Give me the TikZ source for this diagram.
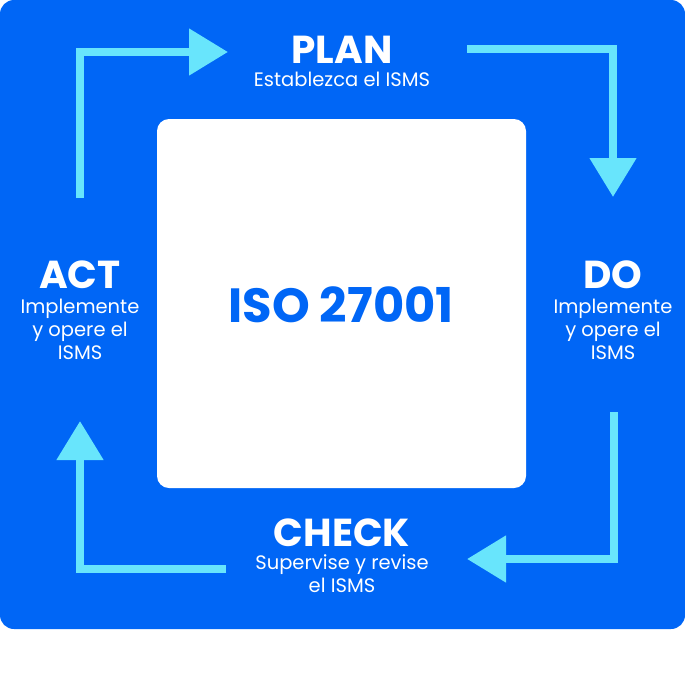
\documentclass[tikz,border=0pt]{standalone}
\usepackage{fontspec}
\setmainfont{Poppins}
\usetikzlibrary{arrows.meta}
\definecolor{bgblue}{RGB}{0,102,246}
\definecolor{cyanarrow}{RGB}{104,229,252}
\begin{document}
\begin{tikzpicture}[x=1pt,y=-1pt,
  cyclearrow/.style={draw=cyanarrow,line width=8pt,line join=miter,
    -{Triangle[length=39pt,width=45pt]}},
  titletext/.style={text=white,font=\fontsize{39}{39}\selectfont\bfseries,anchor=base,inner sep=0pt},
  subtext/.style={text=white,font=\fontsize{19.5}{23}\selectfont,anchor=base,align=center,inner sep=0pt},
  isotext/.style={text=bgblue,font=\fontsize{48}{48}\selectfont\bfseries,anchor=base,inner sep=0pt}]
\useasboundingbox (0,0) rectangle (685,689);
\fill[bgblue,rounded corners=14pt] (0,0) rectangle (685,629);
\fill[white,rounded corners=12pt] (157,119) rectangle (526,488);
\node[isotext] (iso) at (341,322) {ISO 27001};
% labels (multi-line nodes: base = last line)
\node[titletext] (plan) at (342,63) {PLAN};
\node[subtext] (plansub) at (342,86) {Establezca el ISMS};
\node[titletext] (do) at (613,288) {DO};
\node[subtext] (dosub) at (613,359) {Implemente\\y opere el\\ISMS};
\node[titletext] (check) at (342,546) {CHECK};
\node[subtext] (checksub) at (342,592) {Supervise y revise\\el ISMS};
\node[titletext] (act) at (80,288) {ACT};
\node[subtext] (actsub) at (80,359) {Implemente\\y opere el\\ISMS};
% arrow end points
\coordinate (a1s) at (80,198);  \coordinate (a1c) at (80,52);   \coordinate (a1e) at (228,52);
\coordinate (a2s) at (467,49);  \coordinate (a2c) at (613,49);  \coordinate (a2e) at (613,197);
\coordinate (a3s) at (614,412); \coordinate (a3c) at (614,559); \coordinate (a3e) at (467,559);
\coordinate (a4s) at (226,569); \coordinate (a4c) at (80,569);  \coordinate (a4e) at (80,421);
\draw[cyclearrow] (a1s) -- (a1c) -- (a1e);
\draw[cyclearrow] (a2s) -- (a2c) -- (a2e);
\draw[cyclearrow] (a3s) -- (a3c) -- (a3e);
\draw[cyclearrow] (a4s) -- (a4c) -- (a4e);
\end{tikzpicture}
\end{document}
